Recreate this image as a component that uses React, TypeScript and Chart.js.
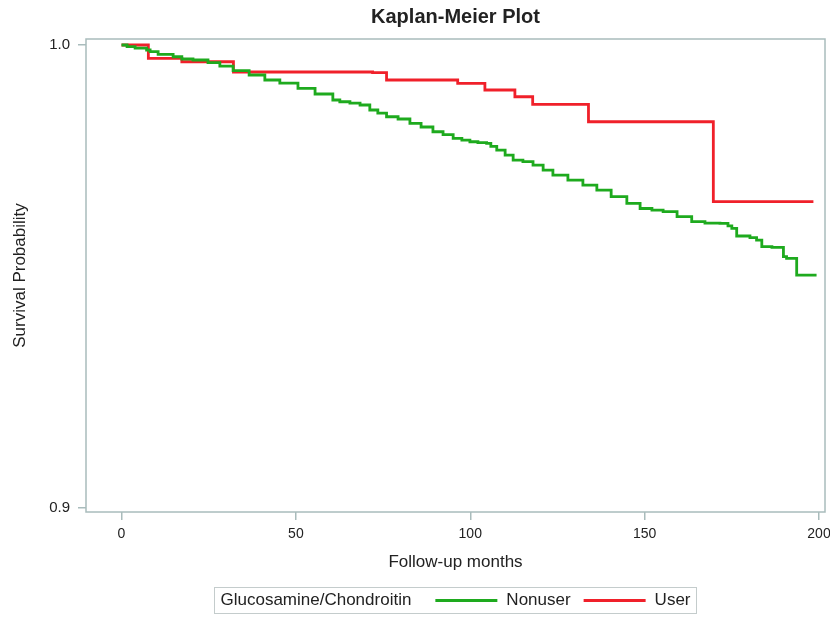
import React, { useEffect, useRef } from "react";
import { Chart, registerables } from "chart.js";

Chart.register(...registerables);

// Nonuser (green) Kaplan-Meier estimate: [month, survival]
const nonuserMonths = [
  0, 1.6, 3.9, 7.2, 8.2, 10.5, 14.8, 17.3, 20.5, 24.8, 28.2, 32.0, 36.6, 41.1, 45.4, 50.6, 55.5, 60.6,
  62.6, 65.5, 68.4, 71.2, 73.5, 76.0, 79.3, 82.7, 85.9, 89.3, 92.2, 95.1, 97.6, 99.9, 102.2, 104.7,
  105.9, 107.6, 110.0, 112.3, 115.1, 118.0, 120.9, 123.7, 128.0, 132.3, 136.3, 140.4, 144.9, 148.7,
  152.1, 155.3, 159.3, 163.5, 167.3, 171.6, 173.9, 175.0, 176.4, 180.2, 182.1, 183.6, 186.5, 189.8,
  190.7, 193.6, 199.3,
];
const nonuserSurvival = [
  1.0, 0.99964, 0.99935, 0.99892, 0.99856, 0.99798, 0.99747, 0.99698, 0.99676, 0.99618, 0.99546,
  0.99445, 0.99352, 0.99244, 0.99176, 0.99065, 0.98942, 0.98812, 0.98775, 0.98747, 0.98704, 0.98596,
  0.98531, 0.98451, 0.98402, 0.98309, 0.98229, 0.98127, 0.98063, 0.97985, 0.97948, 0.97911, 0.9789,
  0.97877, 0.97812, 0.97732, 0.97624, 0.97516, 0.9748, 0.97408, 0.973, 0.97192, 0.97084, 0.96976,
  0.96868, 0.96724, 0.96581, 0.96469, 0.96436, 0.964, 0.96292, 0.96184, 0.96153, 0.96149, 0.96095,
  0.96041, 0.95875, 0.9584, 0.95788, 0.95644, 0.9563, 0.95428, 0.95393, 0.95032, 0.95032,
];

// User (red) Kaplan-Meier estimate
const userMonths = [0, 7.7, 17.3, 32.1, 72.0, 76.0, 96.4, 104.2, 112.8, 117.9, 133.9, 169.7, 198.4];
const userSurvival = [
  1.0, 0.99713, 0.99639, 0.99417, 0.99402, 0.99244, 0.99173, 0.99028, 0.98883, 0.98719, 0.98343,
  0.96616, 0.96616,
];

const xTicks = [0, 50, 100, 150, 200];
const yTicks = [0.9, 1.0];

const seriesNames = ["Nonuser", "User"];
const legendTitle = "Glucosamine/Chondroitin";
const chartTitle = "Kaplan-Meier Plot";
const xTitle = "Follow-up months";
const yTitle = "Survival Probability";

const GREEN = "#1eaa1e";
const RED = "#f0202a";
const FRAME = "#a9bcbc";
const TEXT = "#222222";
const FONT = "'Liberation Sans', Arial, sans-serif";

export default function App() {
  const ref = useRef<HTMLCanvasElement | null>(null);

  useEffect(() => {
    document.body.style.margin = "0";
    const canvas = ref.current;
    if (!canvas) return;

    const framePlugin = {
      id: "frame",
      beforeDatasetsDraw(chart: any) {
        const { ctx, chartArea } = chart;
        ctx.save();
        ctx.strokeStyle = FRAME;
        ctx.lineWidth = 1.5;
        ctx.strokeRect(chartArea.left, chartArea.top, chartArea.right - chartArea.left, chartArea.bottom - chartArea.top);
        ctx.restore();
      },
    };

    const legendPlugin = {
      id: "kmLegend",
      afterDraw(chart: any) {
        const { ctx, chartArea, scales } = chart;
        ctx.save();
        ctx.font = `17px ${FONT}`;
        const padX = 6;
        const gapTitle = 24;
        const lineLen = 62;
        const gapLineText = 9;
        const gapItems = 13;
        const wTitle = ctx.measureText(legendTitle).width;
        const wItems = seriesNames.map((n) => ctx.measureText(n).width);
        const total =
          padX * 2 + wTitle + gapTitle + (lineLen + gapLineText) * 2 + wItems[0] + gapItems + wItems[1];
        const cx = (chartArea.left + chartArea.right) / 2;
        const x0 = cx - total / 2;
        const top = scales.x.bottom + 5;
        const h = 26;
        ctx.strokeStyle = "#c4cccc";
        ctx.lineWidth = 1;
        ctx.strokeRect(Math.round(x0) + 0.5, Math.round(top) + 0.5, Math.round(total), h);
        const cy = top + h / 2 + 0.5;
        ctx.fillStyle = TEXT;
        ctx.textBaseline = "middle";
        ctx.textAlign = "left";
        let x = x0 + padX;
        ctx.fillText(legendTitle, x, cy);
        x += wTitle + gapTitle;
        const colors = [GREEN, RED];
        seriesNames.forEach((n, i) => {
          ctx.strokeStyle = colors[i];
          ctx.lineWidth = 2.8;
          ctx.beginPath();
          ctx.moveTo(x, cy);
          ctx.lineTo(x + lineLen, cy);
          ctx.stroke();
          x += lineLen + gapLineText;
          ctx.fillStyle = TEXT;
          ctx.fillText(n, x, cy);
          x += wItems[i] + gapItems;
        });
        ctx.restore();
      },
    };

    const chart = new Chart(canvas, {
      type: "line",
      data: {
        datasets: [
          {
            label: seriesNames[0],
            data: nonuserMonths.map((m, i) => ({ x: m, y: nonuserSurvival[i] })),
            borderColor: GREEN,
            borderWidth: 2.8,
            pointRadius: 0,
            stepped: "before",
            fill: false,
          },
          {
            label: seriesNames[1],
            data: userMonths.map((m, i) => ({ x: m, y: userSurvival[i] })),
            borderColor: RED,
            borderWidth: 2.8,
            pointRadius: 0,
            stepped: "before",
            fill: false,
          },
        ],
      },
      options: {
        animation: false,
        responsive: false,
        layout: { padding: { left: 0, right: 5, top: 0, bottom: 36 } },
        plugins: {
          legend: { display: false },
          tooltip: { enabled: false },
          title: {
            display: true,
            fullSize: false,
            text: chartTitle,
            color: TEXT,
            font: { family: FONT, size: 20, weight: "bold" },
            padding: { top: 5, bottom: 10 },
          },
        },
        scales: {
          x: {
            type: "linear",
            min: -10.18,
            max: 201.72,
            afterBuildTicks(scale: any) {
              scale.ticks = xTicks.map((v) => ({ value: v }));
            },
            afterFit(scale: any) {
              scale.height = 70;
              scale.paddingLeft = 0;
              scale.paddingRight = 0;
            },
            grid: { drawOnChartArea: false, drawTicks: true, tickLength: 8, color: FRAME, lineWidth: 1.5 },
            border: { display: false },
            ticks: {
              color: TEXT,
              padding: 6,
              maxRotation: 0,
              font: { family: FONT, size: 14 },
              callback: (v: any) => String(v),
            },
            title: {
              display: true,
              text: xTitle,
              color: TEXT,
              font: { family: FONT, size: 17 },
              padding: { top: 0, bottom: 9 },
            },
          },
          y: {
            type: "linear",
            min: 0.89914,
            max: 1.0013,
            afterBuildTicks(scale: any) {
              scale.ticks = yTicks.map((v) => ({ value: v }));
            },
            afterFit(scale: any) {
              scale.width = 86;
              scale.paddingTop = 0;
              scale.paddingBottom = 0;
            },
            grid: { drawOnChartArea: false, drawTicks: true, tickLength: 8, color: FRAME, lineWidth: 1.5 },
            border: { display: false },
            ticks: {
              color: TEXT,
              padding: 8,
              font: { family: FONT, size: 15 },
              callback: (v: any) => Number(v).toFixed(1),
            },
            title: {
              display: true,
              text: yTitle,
              color: TEXT,
              font: { family: FONT, size: 17 },
              padding: { top: 10, bottom: 0 },
            },
          },
        },
      },
      plugins: [framePlugin, legendPlugin],
    });

    return () => chart.destroy();
  }, []);

  return (
    <div style={{ width: 830, height: 618, background: "#fff" }}>
      <canvas ref={ref} width={830} height={618} />
    </div>
  );
}
